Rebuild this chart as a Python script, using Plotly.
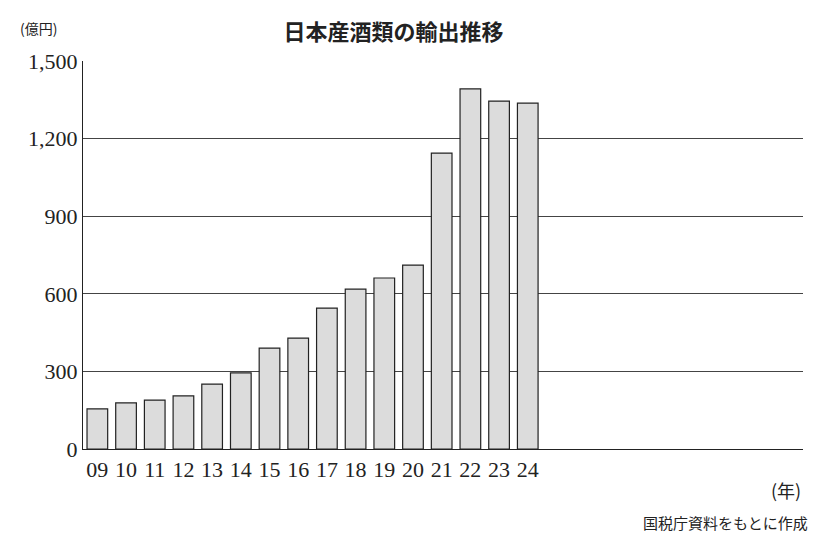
import plotly.graph_objects as go

years = ['09', '10', '11', '12', '13', '14', '15', '16', '17', '18', '19', '20', '21', '22', '23', '24']
values = [155, 178, 189, 205, 251, 294, 390, 429, 545, 618, 661, 711, 1144, 1392, 1345, 1337]
y_ticks = [0, 300, 600, 900, 1200, 1500]
y_labels = ['0', '300', '600', '900', '1,200', '1,500']

serif = 'Liberation Serif, DejaVu Serif, serif'
jp = 'Noto Sans CJK JP'

fig = go.Figure(go.Bar(
    x=years, y=values,
    marker=dict(color='#dcdcdc', line=dict(color='#222', width=1.2)),
    width=0.72,
))

fig.update_layout(
    width=820, height=536,
    margin=dict(l=75, r=25, t=53, b=95),
    paper_bgcolor='white', plot_bgcolor='white',
    showlegend=False,
    title=dict(text='<b>日本産酒類の輸出推移</b>', x=0.47, xanchor='center', y=0.955, yanchor='middle',
               font=dict(family=jp, size=22, color='#222')),
    xaxis=dict(type='category', showline=True, linecolor='#222', linewidth=1.2, ticks='', showgrid=False,
               tickfont=dict(family=serif, size=22, color='#222')),
    yaxis=dict(range=[0, 1500], tickvals=y_ticks, ticktext=y_labels, showline=True,
               linecolor='#222', linewidth=1.2, gridcolor='#444', gridwidth=0.8, ticks='',
               zeroline=False, tickfont=dict(family=serif, size=22, color='#222')),
    annotations=[
        dict(text='(億円)', xref='paper', yref='paper', x=-0.09, y=1.085, xanchor='left', yanchor='middle',
             showarrow=False, font=dict(family=jp, size=14, color='#222')),
        dict(text='(年)', xref='x', yref='paper', x='24', y=-0.106, xanchor='center', yanchor='middle',
             showarrow=False, font=dict(family=jp, size=18, color='#222')),
        dict(text='国税庁資料をもとに作成', xref='paper', yref='paper', x=1.01, y=-0.19, xanchor='right',
             yanchor='middle', showarrow=False, font=dict(family=jp, size=15, color='#222')),
    ],
)

fig.write_html('out.html')
